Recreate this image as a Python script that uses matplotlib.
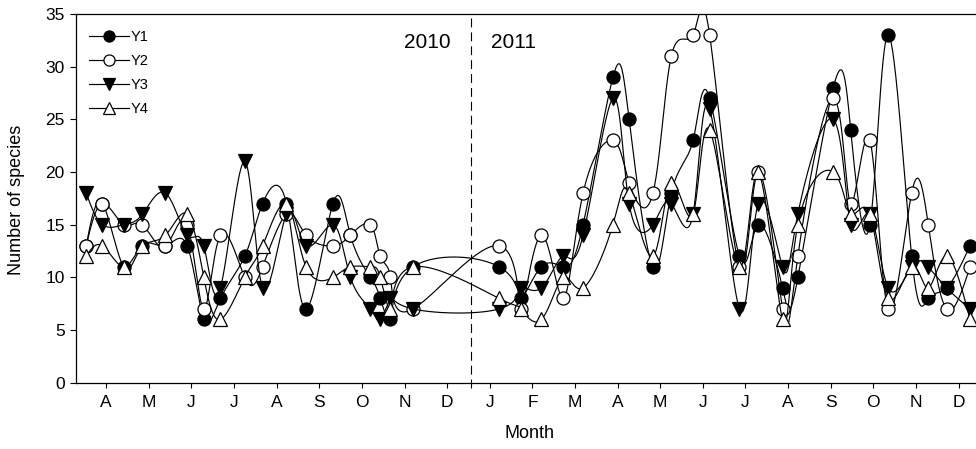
import numpy as np
import matplotlib
matplotlib.use("Agg")
import matplotlib.pyplot as plt
from matplotlib.lines import Line2D

plt.rcParams['font.family'] = ['Liberation Sans', 'DejaVu Sans']

# ---------------- data ----------------
# sampling positions in months (tick "A" of 2010 = 1, "J" of 2011 = 10)
x_2010 = [0.53, 0.91, 1.41, 1.85, 2.39, 2.90, 3.29, 3.68, 4.25, 4.67, 5.23, 5.69,
          6.32, 6.73, 7.20, 7.43, 7.67, 8.20]
x_2011 = [10.22, 10.74, 11.21, 11.72, 12.19, 12.89, 13.27, 13.83, 14.26, 14.77,
          15.16, 15.86, 16.30, 16.87, 17.23, 18.06, 18.47, 18.92, 19.35, 19.90,
          20.29, 20.72, 21.27]

y1_2010 = [13, 17, 11, 13, 13, 13, 6, 8, 12, 17, 17, 7, 17, 14, 10, 8, 6, 11]
y2_2010 = [13, 17, 15, 15, 13, 15, 7, 14, 10, 11, 16, 14, 13, 14, 15, 12, 10, 7]
y3_2010 = [18, 15, 15, 16, 18, 14, 13, 9, 21, 9, 16, 13, 15, 10, 7, 6, 8, 7]
y4_2010 = [12, 13, 11, 13, 14, 16, 10, 6, 10, 13, 17, 11, 10, 11, 11, 10, 7, 11]

y1_2011 = [11, 8, 11, 11, 15, 29, 25, 11, 18, 23, 27, 12, 15, 9, 10, 28, 24, 15, 33, 12, 8, 9, 13]
y2_2011 = [13, 7, 14, 8, 18, 23, 19, 18, 31, 33, 33, 11, 20, 7, 12, 27, 17, 23, 7, 18, 15, 7, 11]
y3_2011 = [7, 9, 9, 12, 14, 27, 17, 15, 17, 16, 26, 7, 17, 11, 16, 25, 15, 16, 9, 11, 11, 9, 7]
y4_2011 = [8, 7, 6, 10, 9, 15, 18, 12, 19, 16, 24, 11, 20, 6, 15, 20, 16, 16, 8, 11, 9, 12, 6]

series_names = ['Y1', 'Y2', 'Y3', 'Y4']
tick_labels = ['A', 'M', 'J', 'J', 'A', 'S', 'O', 'N', 'D',
               'J', 'F', 'M', 'A', 'M', 'J', 'J', 'A', 'S', 'O', 'N', 'D']
year_break = 9.55
year_labels = ['2010', '2011']


# ---------------- helpers ----------------
def natural_cubic(t, v, tt):
    t = np.asarray(t, float)
    v = np.asarray(v, float)
    n = len(t)
    h = np.diff(t)
    A = np.zeros((n, n))
    r = np.zeros(n)
    A[0, 0] = A[-1, -1] = 1.0
    for i in range(1, n - 1):
        A[i, i - 1] = h[i - 1]
        A[i, i] = 2 * (h[i - 1] + h[i])
        A[i, i + 1] = h[i]
        r[i] = 6 * ((v[i + 1] - v[i]) / h[i] - (v[i] - v[i - 1]) / h[i - 1])
    M = np.linalg.solve(A, r)
    idx = np.clip(np.searchsorted(t, tt, side='right') - 1, 0, n - 2)
    t0, t1 = t[idx], t[idx + 1]
    hh = t1 - t0
    a = (t1 - tt) / hh
    b = (tt - t0) / hh
    return a * v[idx] + b * v[idx + 1] + ((a ** 3 - a) * M[idx] + (b ** 3 - b) * M[idx + 1]) * hh ** 2 / 6


def param_spline(x, y, per_seg=40):
    n = len(x)
    t = np.arange(n, dtype=float)
    tt = np.linspace(0, n - 1, per_seg * (n - 1) + 1)
    return natural_cubic(t, x, tt), natural_cubic(t, y, tt)


# ---------------- figure ----------------
fig = plt.figure(figsize=(9.76, 4.49), dpi=100)
ax = fig.add_axes([75.5 / 976, (449 - 382.7) / 449, (976 - 75.5) / 976, (382.7 - 14) / 449])

x_all = x_2010 + x_2011
ys = [y1_2010 + y1_2011, y2_2010 + y2_2011, y3_2010 + y3_2011, y4_2010 + y4_2011]
markers = ['o', 'o', 'v', '^']
faces = ['black', 'white', 'black', 'white']
sizes = [9.4, 9.4, 10.0, 10.0]

for i, (yv, m, fc, ms) in enumerate(zip(ys, markers, faces, sizes)):
    sx, sy = param_spline(x_all, yv)
    ax.plot(sx, sy, color='black', lw=0.85, zorder=3 + i)
    ax.plot(x_all, yv, ls='none', marker=m, ms=ms, mfc=fc, mec='black', mew=0.9,
            zorder=3 + i + 0.5)

ax.axvline(year_break, ymin=-5.5 / 369, ymax=1, color='black', lw=0.8,
           ls=(0, (8, 4.5)), clip_on=False, zorder=2)

ax.set_xlim(0.279, 21.41)
ax.set_ylim(0, 35)
ax.set_xticks(np.arange(1, len(tick_labels) + 1))
ax.set_xticklabels(tick_labels)
ax.set_yticks(np.arange(0, 36, 5))

ax.spines['right'].set_visible(False)
for s in ['left', 'bottom', 'top']:
    ax.spines[s].set_linewidth(0.9)
ax.tick_params(axis='x', direction='out', length=3.6, width=0.8, labelsize=12.5, pad=5)
ax.tick_params(axis='y', direction='out', length=4.3, width=0.8, labelsize=12.5, pad=3.5)

fig.text(17 / 976, 1 - 199.5 / 449, 'Number of species', rotation=90,
         ha='center', va='center', fontsize=13)
fig.text(530 / 976, 1 - 433 / 449, 'Month', ha='center', va='center', fontsize=13)

fig.text(427.5 / 976, 1 - 42 / 449, year_labels[0], ha='center', va='center', fontsize=15)
fig.text(513.3 / 976, 1 - 42 / 449, year_labels[1], ha='center', va='center', fontsize=15)

handles = [Line2D([], [], color='black', lw=0.85, marker=m, ms=ms * 0.85, mfc=fc,
                  mec='black', mew=0.9)
           for m, fc, ms in zip(markers, faces, sizes)]
ax.legend(handles, series_names, loc='upper left', bbox_to_anchor=(0.0148, 0.956),
          frameon=False, fontsize=10.5, handlelength=2.75, handletextpad=0.15,
          labelspacing=0.68, borderpad=0, borderaxespad=0)

fig.savefig('out.png', dpi=100)
